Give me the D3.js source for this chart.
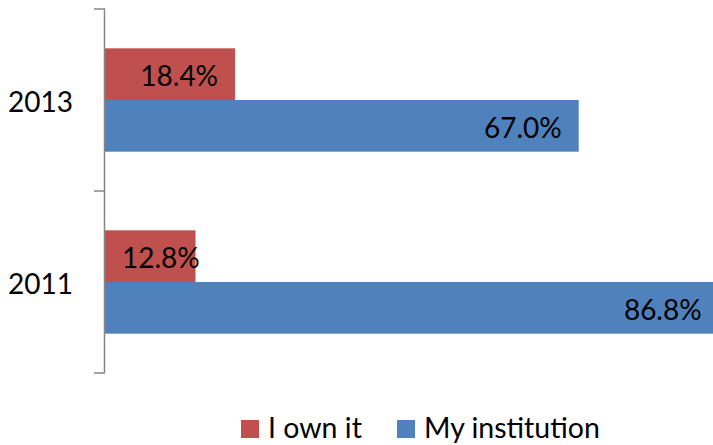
<!DOCTYPE html>
<html><head><meta charset="utf-8">
<script src="https://cdn.jsdelivr.net/npm/d3@7"></script>
<style>body{margin:0;background:#fff}svg{display:block}text{font-family:Lato,"Open Sans",sans-serif}</style>
</head><body><div id="chart"></div>
<script>
const categories = ["2013", "2011"];
const seriesNames = ["I own it", "My institution"];
const ownIt = [18.4, 12.8];
const institution = [67.0, 86.8];
const colors = ["#C0504D", "#4F81BD"];

const W = 713, H = 445;
const svg = d3.select("#chart").append("svg").attr("width", W).attr("height", H);

const x = d3.scaleLinear().domain([0, 100]).range([105, 812]);
const y = d3.scaleBand().domain(categories).range([9, 373]).paddingInner(0.432).paddingOuter(0.216);
const ys = d3.scaleBand().domain(seriesNames).range([0, y.bandwidth()]);

const data = [];
categories.forEach((c, i) => {
  data.push({cat: c, s: seriesNames[0], v: ownIt[i], color: colors[0]});
  data.push({cat: c, s: seriesNames[1], v: institution[i], color: colors[1]});
});

svg.selectAll("rect.bar").data(data).enter().append("rect")
  .attr("class", "bar")
  .attr("x", x(0))
  .attr("y", d => y(d.cat) + ys(d.s))
  .attr("width", d => x(d.v) - x(0))
  .attr("height", ys.bandwidth())
  .attr("fill", d => d.color);

// labels
const fs = 28;
svg.selectAll("text.lbl").data(data).enter().append("text")
  .attr("class", "lbl")
  .attr("font-size", fs)
  .attr("fill", "#000")
  .attr("text-anchor", "end")
  .attr("dominant-baseline", "central")
  .attr("y", d => y(d.cat) + ys(d.s) + ys.bandwidth() / 2 + 1)
  .text(d => d.v.toFixed(1) + "%")
  .attr("x", function(d) {
    const w = this.getComputedTextLength();
    return Math.max(x(d.v) - 17, x(0) + 17 + w);
  });

// axis
const step = y.step();
const r = y.range();
const axisColor = "#868686";
const g = svg.append("g");
g.append("line").attr("x1", x(0) - 0.5).attr("x2", x(0) - 0.5).attr("y1", r[0]).attr("y2", r[1])
  .attr("stroke", axisColor).attr("stroke-width", 1.5);
const tickYs = [r[0], r[0] + step, r[1]];
g.selectAll("line.tick").data(tickYs).enter().append("line")
  .attr("x1", x(0) - 11).attr("x2", x(0)).attr("y1", d => d).attr("y2", d => d)
  .attr("stroke", axisColor).attr("stroke-width", 1.5);
g.selectAll("text.cat").data(categories).enter().append("text")
  .attr("font-size", fs).attr("text-anchor", "end").attr("dominant-baseline", "central")
  .attr("x", x(0) - 32).attr("y", d => y(d) + y.bandwidth() / 2 + 1)
  .text(d => d);

// legend
const legX = [241, 397];
const lg = svg.append("g");
seriesNames.forEach((n, i) => {
  lg.append("rect").attr("x", legX[i]).attr("y", 420).attr("width", 18).attr("height", 18).attr("fill", colors[i]);
  lg.append("text").attr("x", legX[i] + 27).attr("y", 438).attr("font-size", 28.5).text(n);
});
</script></body></html>
